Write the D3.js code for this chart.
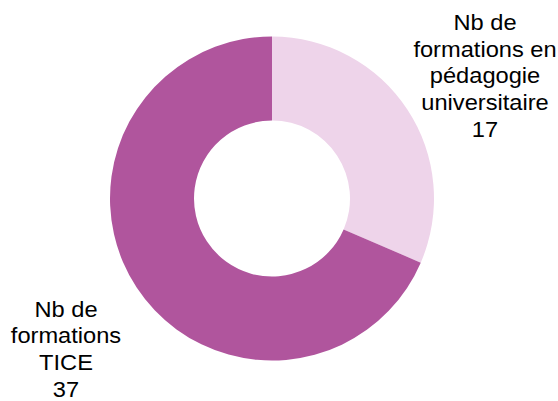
<!DOCTYPE html>
<html>
<head>
<meta charset="utf-8">
<script src="https://cdn.jsdelivr.net/npm/d3@7"></script>
<style>
  body { margin: 0; background: #fff; }
  svg { display: block; }
</style>
</head>
<body>
<svg width="558" height="401"></svg>
<script>
// data
var categories = ["Nb de formations en pédagogie universitaire", "Nb de formations TICE"];
var values = [17, 37];
var labelLines = [
  ["Nb de", "formations en", "pédagogie", "universitaire", "17"],
  ["Nb de", "formations", "TICE", "37"]
];
var colors = ["#eed4ea", "#b0559d"];

var svg = d3.select("svg");
var cx = 272, cy = 198.5, outerR = 162, innerR = 78;

var pie = d3.pie().sort(null).value(function(d) { return d; });
var arc = d3.arc().innerRadius(innerR).outerRadius(outerR);

var g = svg.append("g").attr("transform", "translate(" + cx + "," + cy + ")");

g.selectAll("path")
  .data(pie(values))
  .enter().append("path")
    .attr("d", arc)
    .attr("fill", function(d, i) { return colors[i]; });

// labels (the original font renders a bit wider than Arial, hence the x stretch)
var labelPos = [[485, 30], [66, 316.7]];
var lineH = 26.7;

svg.selectAll("g.lbl")
  .data(labelLines)
  .enter().append("g")
    .attr("class", "lbl")
    .attr("transform", function(d, i) {
      return "translate(" + labelPos[i][0] + "," + labelPos[i][1] + ") scale(1.1,1)";
    })
  .append("text")
    .attr("text-anchor", "middle")
    .attr("font-family", "'Liberation Sans', Arial, sans-serif")
    .attr("font-size", 21.5)
    .attr("fill", "#000")
    .each(function(lines) {
      var t = d3.select(this);
      lines.forEach(function(l, j) {
        t.append("tspan")
          .attr("x", 0)
          .attr("y", j * lineH / 1)
          .text(l);
      });
    });
</script>
</body>
</html>
